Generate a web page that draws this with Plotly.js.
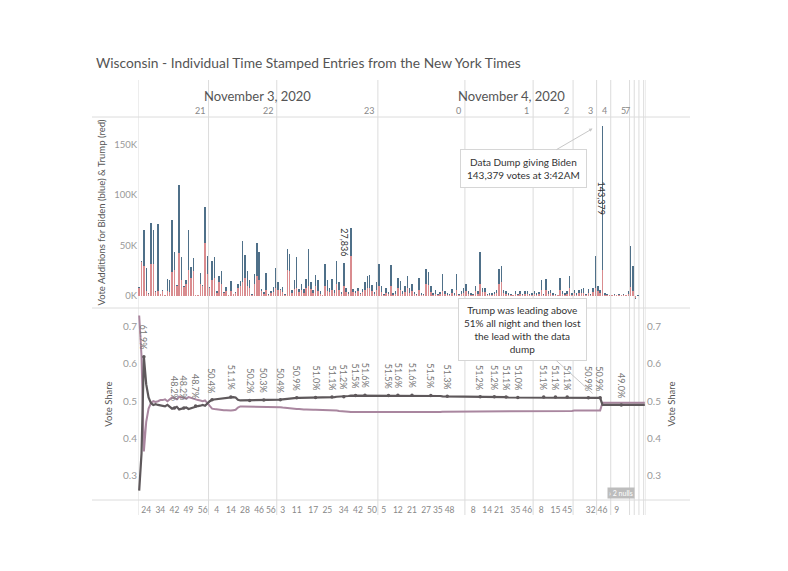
<!DOCTYPE html>
<html><head><meta charset="utf-8">
<script src="https://cdn.plot.ly/plotly-3.0.1.min.js"></script>
<style>html,body{margin:0;padding:0;background:#fff}</style>
</head><body><div id="chart" style="width:788px;height:571px"></div>
<script>
// ---- DATA ----
const sectionHours = ['21','22','23','0','1','2','3','4','5','7','8','9','10'];
const sectionDays = ['November 3, 2020','November 3, 2020','November 3, 2020','November 4, 2020','November 4, 2020','November 4, 2020','November 4, 2020','November 4, 2020','November 4, 2020','November 4, 2020','November 4, 2020','November 4, 2020','November 4, 2020'];
const sectionSizes = [30,29,43,37,29,17,10,6,8,2,2,2,1];
const headerHourLabels = ['21','22','23','0','1','2','3','4','5','7','','',''];

// vote additions, thousands of votes
const trumpAdds = [
 8,34,30,5,2,32,32,4,5,1.5,5,1,5,4,24,26,10,42,16,9,12,26,18,25,1,0.5,12,10,52,22,
 8,16,18,3,14,12,3,5,1,5,2,3,8,10,14,18,10,8,1,12,20,16,5,2,6,1,3,4,8,
 6,6,4,1,26,25,3,7,8,4,6,3,8,10,7,3,10,5,2,1,10,5,4,6,3,12,6,2,10,4,2,39.2,4,3,5,2,4,6,8,8,5,2,6,
 10,4,1,3,2,10,1,2,8,6,2,4,8,3,5,2,1,6,1,1,12,11,4,1,2,1,2,5,2,1,1,3,1,6,1,2,3,
 5,2,1,1,5,2,12,4,4,1,1,1,2,3,12,14,3,2,1,1,0.5,2,1,2,1,2,2,1,1,
 2,1,2,6,1,6,2,3,1,1,0.5,6,2,1,2,8,1,
 3,1,3,3,3,1,3,1,4,8,
 5,3,25.163,1,1,0.5,
 0.5,1,0.5,1,0.5,1,0.5,2,
 9,5, -2,0.3, 0.2,0.2, 0.1
];
const bidenAdds = [
 0.5,1,35,23,1,40,33,0.5,66,0.3,0.5,0.3,12,12,51,17,0.5,68,22,0.5,4,39,11,12,0.2,0.2,11,0.5,36,17,
 0.5,19,20,2,6,13,1,4,0.3,10,0.3,1,4,5,40,22,15,8,1,10,32,27,2,2,17,1,2,5,20,
 8,0.5,5,1,20,16,3,9,30,3,6,4,9,36,7,3,11,11,3,0.3,22,11,4,11,3,23,8,2,23,4,2,27.836,3,2,3,1,3,8,12,13,6,2,8,
 22,6,1,5,2,21,2,3,10,9,3,6,12,5,7,2,1,12,2,1,15,13,6,2,4,1,2,17,3,2,1,4,2,16,1,3,5,
 7,3,2,1,5,3,31,4,4,1,2,2,2,3,15,16,3,3,2,1,0.5,3,1,3,1,3,3,1,2,
 3,2,2,10,1,11,3,3,2,1,0.5,12,3,2,3,12,2,
 3,2,3,4,5,1,4,1,4,31,
 5,3,143.379,2,1,0.5,
 0.5,1,0.5,1,0.5,1,0.5,3,
 40,25, -1.5,0.2, 0.1,0.1, 0.1
];
const trumpShare = [
 .26,.36,.619,.545,.51,.495,.49,.492,.49,.488,.488,.486,.49,.485,.48,.482,.485,.478,.48,.482,.483,.479,.481,.483,.487,.487,.488,.49,.488,.495,
 .500,.504,.505,.506,.507,.508,.509,.510,.511,.511,.511,.510,.504,.502,.502,.502,.502,.502,.503,.502,.502,.503,.503,.503,.503,.503,.504,.503,.504,
 .504,.504,.505,.506,.507,.508,.508,.509,.509,.509,.509,.510,.510,.510,.510,.510,.510,.510,.511,.511,.511,.511,.511,.511,.511,.512,.512,.512,.512,.513,.514,.515,.515,.515,.515,.516,.516,.516,.516,.516,.516,.515,.515,
 .515,.515,.515,.515,.515,.515,.516,.516,.516,.516,.516,.516,.516,.516,.516,.516,.516,.515,.515,.515,.515,.515,.515,.514,.514,.514,.514,.513,.513,.513,.513,.513,.513,.512,.512,.512,.512,
 .512,.512,.512,.512,.512,.512,.512,.512,.512,.512,.512,.512,.512,.511,.511,.511,.511,.511,.510,.510,.510,.510,.510,.510,.510,.510,.510,.510,.510,
 .511,.511,.511,.511,.511,.511,.511,.511,.511,.511,.511,.511,.511,.511,.511,.511,.511,
 .510,.510,.510,.510,.509,.509,.509,.509,.509,.509,
 .509,.509,.490,.490,.490,.490,
 .490,.491,.490,.490,.490,.490,.491,.490,
 .489,.490, .491,.490, .490,.491, .490
];
const bidenShare = [
 .73,.62,.365,.445,.48,.495,.50,.498,.50,.503,.503,.505,.50,.505,.51,.508,.505,.512,.51,.508,.507,.511,.509,.507,.503,.503,.502,.50,.502,.495,
 .485,.480,.479,.478,.478,.477,.476,.476,.475,.475,.476,.477,.483,.486,.486,.486,.486,.486,.485,.486,.486,.485,.486,.485,.485,.485,.485,.486,.485,
 .484,.484,.483,.482,.481,.480,.480,.479,.479,.479,.478,.478,.478,.477,.477,.477,.477,.477,.476,.476,.476,.476,.476,.475,.475,.475,.474,.474,.474,.473,.472,.471,.471,.471,.471,.470,.470,.470,.470,.470,.470,.470,.470,
 .470,.470,.470,.470,.470,.470,.469,.469,.469,.469,.469,.469,.469,.469,.469,.469,.469,.470,.470,.470,.470,.470,.470,.471,.471,.471,.471,.472,.472,.472,.472,.472,.472,.472,.473,.473,.473,
 .473,.473,.473,.473,.473,.473,.473,.473,.473,.473,.473,.473,.473,.474,.474,.474,.474,.474,.474,.474,.474,.474,.474,.474,.474,.474,.474,.474,.474,
 .474,.474,.474,.474,.474,.474,.474,.474,.474,.474,.474,.474,.474,.474,.474,.474,.474,
 .475,.475,.475,.475,.475,.475,.475,.475,.475,.475,
 .475,.475,.496,.496,.496,.496,
 .496,.495,.496,.496,.496,.496,.495,.496,
 .497,.496, .495,.496, .496,.495, .496
];
const minuteTickEntry = [3,9,15,21,27, 33,39,45,51,56, 61,67,74,80,87,93,99, 104,110,116,122,127,132, 142,148,153,160,165, 171,177,182, 192, 197, 203];
const minuteTickText  = ['24','34','42','49','56', '4','14','28','46','56', '3','11','17','25','34','42','50', '5','12','21','27','35','48', '8','14','21','35','46', '8','15','45', '32', '46', '9'];
const shareLabelEntry = [2,15,19,24,31,39,47,53,60,67,75,82,87,92,96,106,110,116,124,131,145,151,156,161,172,177,182,191,196,205];
const barLabelEntry = [90,197];

// ---- BUILD ----
const N = trumpAdds.length;
const idx = Array.from({length:N},(_,i)=>i);
const starts=[]; {let s=0; for(const n of sectionSizes){starts.push(s); s+=n;}}

const W=788,H=571, L=138, R=646, T=117, B=500;
const px2paperX = x => (x-L)/(R-L);
const py2paperY = y => (B-y)/(B-T);
const split = py2paperY(308);

const RED='#d98c8f', BLUE='#4f7089', DARK='#5e585b', MAUVE='#a9869f', GRID='#dcdcdc';

const traces = [
 {type:'bar', x:idx, y:trumpAdds, marker:{color:RED}, width:0.62, xaxis:'x', yaxis:'y', hoverinfo:'skip'},
 {type:'bar', x:idx, y:bidenAdds, marker:{color:BLUE}, width:0.62, xaxis:'x', yaxis:'y', hoverinfo:'skip'},
 {type:'scatter', mode:'lines', x:idx, y:bidenShare, line:{color:MAUVE,width:2}, xaxis:'x', yaxis:'y2', hoverinfo:'skip'},
 {type:'scatter', mode:'lines', x:idx, y:trumpShare, line:{color:DARK,width:2.2}, xaxis:'x', yaxis:'y2', hoverinfo:'skip'},
 {type:'scatter', mode:'markers', x:shareLabelEntry, y:shareLabelEntry.map(i=>trumpShare[i]), marker:{color:DARK,size:3.5}, xaxis:'x', yaxis:'y2', hoverinfo:'skip'},
 {type:'scatter', mode:'lines', x:idx, y:trumpShare, line:{color:'rgba(0,0,0,0)',width:0}, xaxis:'x', yaxis:'y3', hoverinfo:'skip'}
];

const shapes = [];
const bounds = starts.map(s=>s-0.5).concat([N-0.5]);
bounds.forEach(b=>shapes.push({type:'line', xref:'x', yref:'paper', x0:b, x1:b, y0:py2paperY(515), y1:py2paperY(80), line:{color:GRID,width:1}, layer:'below'}));
[117,308,500].forEach(y=>shapes.push({type:'line', xref:'paper', yref:'paper', x0:px2paperX(92), x1:px2paperX(690), y0:py2paperY(y), y1:py2paperY(y), line:{color:GRID,width:1}, layer:'below'}));

const annotations = [];
// day headers
const dayNames = [...new Set(sectionDays)];
dayNames.forEach(d=>{
  const ks = sectionDays.map((v,k)=>v===d?k:-1).filter(k=>k>=0);
  const a = starts[ks[0]]-0.5, b = starts[ks[ks.length-1]]+sectionSizes[ks[ks.length-1]]-0.5;
  annotations.push({xref:'x', yref:'paper', x:(a+b)/2, y:py2paperY(96), text:d, showarrow:false, font:{size:13,color:'#555'}, xanchor:'center', yanchor:'middle'});
});
// hour headers
headerHourLabels.forEach((h,k)=>{
  if(!h) return;
  annotations.push({xref:'x', yref:'paper', x:starts[k]+sectionSizes[k]-0.5, y:py2paperY(111), text:h, showarrow:false, font:{size:9,color:'#888'}, xanchor:'right', yanchor:'middle', xshift:-2});
});
// share labels
shareLabelEntry.forEach(i=>{
  annotations.push({xref:'x', yref:'y2', x:i, y:trumpShare[i], text:(trumpShare[i]*100).toFixed(1)+'%', showarrow:false, textangle:90, font:{size:9,color:'#777'}, xanchor:'center', yanchor:'bottom', yshift:5});
});
// bar labels
barLabelEntry.forEach(i=>{
  annotations.push({xref:'x', yref:'y', x:i, y:trumpAdds[i]+bidenAdds[i]/2, text:Math.round(bidenAdds[i]*1000).toLocaleString('en-US'), showarrow:false, textangle:90, font:{size:9,color:'#333'}, xanchor:'center', yanchor:'middle', xshift: i===90?-6:0});
});
// callouts
const dumpI = barLabelEntry[1];
annotations.push({xref:'x', yref:'y', x:dumpI-4.2, y:trumpAdds[dumpI]+bidenAdds[dumpI]-3, axref:'x', ayref:'y', ax:163.6, ay:126,
  text:'Data Dump giving Biden<br>143,379 votes at 3:42AM', showarrow:true, arrowhead:2, arrowsize:0.7, arrowwidth:1, arrowcolor:'#c8c8c8',
  font:{size:10,color:'#333'}, bgcolor:'#fff', bordercolor:'#d6d6d6', borderwidth:1, borderpad:6, align:'center'});
annotations.push({xref:'x', yref:'y2', x:dumpI-4.2, y:0.521, axref:'x', ayref:'y2', ax:162.8, ay:0.692,
  text:'Trump was leading above<br>51% all night and then lost<br>the lead with the data<br>dump', showarrow:true, arrowhead:0, arrowwidth:1, arrowcolor:'#c8c8c8',
  font:{size:10,color:'#333'}, bgcolor:'#fff', bordercolor:'#d6d6d6', borderwidth:1, borderpad:5, align:'center'});
// nulls indicator
annotations.push({xref:'paper', yref:'paper', x:px2paperX(621), y:py2paperY(493), xanchor:'center', yanchor:'middle', text:'› 2 nulls', showarrow:false, font:{size:7,color:'#fff'}, bgcolor:'#bdbdbd', borderpad:1});

const shareAxis = {range:[0.235,0.75], tickvals:[0.3,0.4,0.5,0.6,0.7], ticktext:['0.3','0.4','0.5','0.6','0.7'], showgrid:false, zeroline:false, showline:false, ticks:'', tickfont:{size:10,color:'#999'},
  title:{text:'Vote Share', font:{size:9.5,color:'#555'}, standoff:8}};

const layout = {
  width:W, height:H, paper_bgcolor:'#fff', plot_bgcolor:'rgba(0,0,0,0)',
  font:{family:'Lato, "Open Sans", sans-serif', color:'#555'},
  margin:{l:L, r:W-R, t:T, b:H-B, pad:0},
  showlegend:false, barmode:'relative', bargap:0,
  title:{text:'Wisconsin - Individual Time Stamped Entries from the New York Times', xref:'container', yref:'container', x:96/W, xanchor:'left', y:1-63/H, yanchor:'middle', font:{size:13.8,color:'#555'}},
  xaxis:{range:[-0.5,N-0.5], anchor:'y2', tickvals:minuteTickEntry, ticktext:minuteTickText, tickangle:0, tickfont:{size:8.5,color:'#888'}, showgrid:false, zeroline:false, showline:false, ticks:'', ticklabelstandoff:3},
  yaxis:{domain:[split,1], range:[-12,177], tickvals:[0,50,100,150], ticktext:['0K','50K','100K','150K'], showgrid:false, zeroline:false, showline:false, ticks:'', tickfont:{size:9.5,color:'#999'},
    title:{text:'Vote Additions for Biden (blue) & Trump (red)', font:{size:9.5,color:'#555'}, standoff:6}},
  yaxis2: Object.assign({domain:[0,split], anchor:'x'}, shareAxis),
  yaxis3: Object.assign({overlaying:'y2', side:'right', anchor:'x'}, JSON.parse(JSON.stringify(shareAxis))),
  shapes, annotations
};
Plotly.newPlot('chart', traces, layout, {displayModeBar:false, staticPlot:true});
</script></body></html>
